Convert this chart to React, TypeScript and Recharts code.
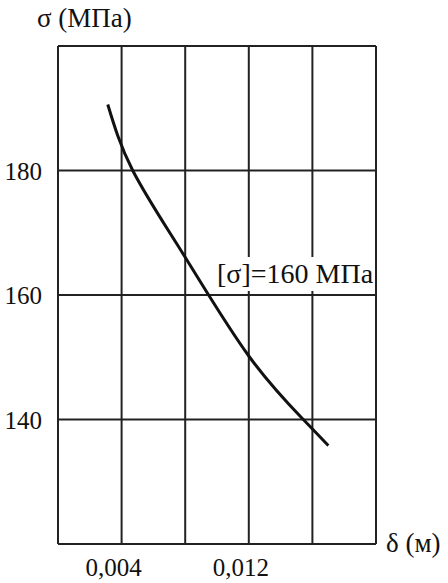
import { LineChart, Line, XAxis, YAxis, CartesianGrid } from "recharts"

// δ (m) vs σ (MPa)
const deltaM = [0.00313, 0.0047, 0.00794, 0.012, 0.01543, 0.017]
const sigmaMPa = [190.6, 180, 166.3, 150.2, 140, 135.8]

const xTicks = [0, 0.004, 0.008, 0.012, 0.016, 0.02]
const xTickLabels: Record<string, string> = { "0.004": "0,004", "0.012": "0,012" }
const yTicks = [120, 140, 160, 180, 200]
const yTickLabels: Record<string, string> = { "140": "140", "160": "160", "180": "180" }

const serif = '"Liberation Serif", "Times New Roman", serif'

const data = deltaM.map((d, i) => ({ d, s: sigmaMPa[i] }))

function XTick({ x, y, payload }: any) {
  const label = xTickLabels[String(payload.value)]
  if (!label) return null
  return (
    <text x={x - 8} y={y + 24} textAnchor="middle" fontFamily={serif} fontSize={25} fill="#111">
      {label}
    </text>
  )
}

function YTick({ x, y, payload }: any) {
  const label = yTickLabels[String(payload.value)]
  if (!label) return null
  return (
    <text x={x - 8} y={y + 9} textAnchor="end" fontFamily={serif} fontSize={25} fill="#111">
      {label}
    </text>
  )
}

export default function App() {
  return (
    <div style={{ position: "absolute", left: 0, top: 0, width: 448, height: 583, background: "#fff", fontFamily: serif }}>
      <LineChart width={448} height={583} data={data} margin={{ top: 46, right: 72, bottom: 0, left: 0 }}>
        <CartesianGrid stroke="#222" strokeWidth={2} horizontalValues={yTicks} verticalValues={xTicks} />
        <XAxis
          dataKey="d"
          type="number"
          domain={[0, 0.02]}
          ticks={xTicks}
          height={39}
          axisLine={{ stroke: "#222", strokeWidth: 2 }}
          tickLine={false}
          tick={<XTick />}
          interval={0}
        />
        <YAxis
          type="number"
          domain={[120, 200]}
          ticks={yTicks}
          width={58}
          axisLine={{ stroke: "#222", strokeWidth: 2 }}
          tickLine={false}
          tick={<YTick />}
          interval={0}
        />
        <Line
          type="natural"
          dataKey="s"
          stroke="#111"
          strokeWidth={3}
          dot={false}
          isAnimationActive={false}
        />
      </LineChart>
      <div style={{ position: "absolute", left: 37, top: 3, fontSize: 27, color: "#111", whiteSpace: "nowrap" }}>
        σ (МПа)
      </div>
      <div style={{ position: "absolute", left: 386, top: 528, fontSize: 27, color: "#111", whiteSpace: "nowrap" }}>
        δ (м)
      </div>
      <div
        style={{
          position: "absolute",
          left: 214,
          top: 257,
          width: 160,
          height: 34,
          background: "#fff",
          fontSize: 28,
          lineHeight: "34px",
          color: "#111",
          whiteSpace: "nowrap",
          paddingLeft: 3,
          boxSizing: "border-box",
        }}
      >
        [σ]=160 МПа
      </div>
    </div>
  )
}
